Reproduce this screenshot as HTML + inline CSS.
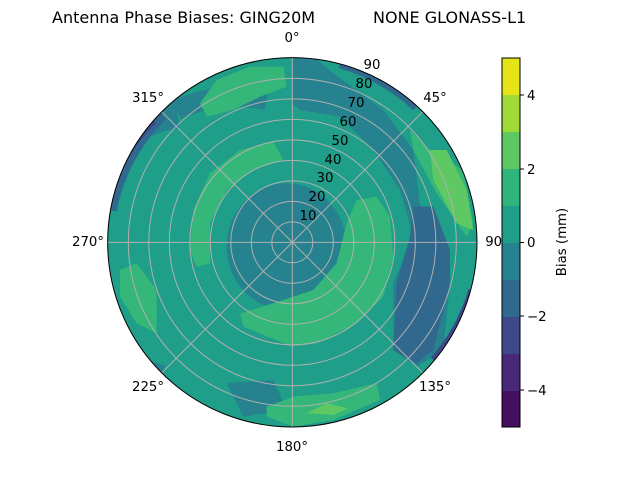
<!DOCTYPE html><html><head><style>body{margin:0;background:#fff}svg{display:block;font-family:"DejaVu Sans","Liberation Sans",sans-serif}</style></head><body>
<svg width="640" height="480" viewBox="0 0 640 480">
<defs><clipPath id="c"><circle cx="577" cy="577" r="554"/></clipPath></defs>
<text x="52" y="23" font-size="16">Antenna Phase Biases: GING20M</text>
<text x="373" y="23" font-size="16">NONE GLONASS-L1</text>
<g transform="translate(100,50) scale(0.3333)">
<g clip-path="url(#c)">
<rect x="0" y="0" width="1170" height="1170" fill="#1f9e89"/>
<path d="M577,20 L640,20 L700,70 L850,180 L940,300 L960,460 L1010,560 L1050,700 L1030,900 L950,950 L880,900 L880,700 L940,560 L900,420 L820,300 L720,200 L600,180 L577,160Z" fill="#26828e"/>
<path d="M180,1000 A420,420 0 0 1 230,180" fill="none" stroke="#26828e" stroke-width="110"/>
<path d="M230,180 A420,420 0 0 1 500,150" fill="none" stroke="#26828e" stroke-width="60"/>
<path d="M380,1000 L520,990 L560,1080 L430,1100Z" fill="#26828e"/>
<ellipse cx="560" cy="590" rx="180" ry="190" fill="#26828e"/>
<path d="M940,470 L1000,470 L1050,600 L1050,700 L1000,900 L950,940 L880,900 L890,700 L930,560Z" fill="#31688e"/>
<path d="M300,160 L350,90 L450,50 L550,50 L560,110 L480,140 L400,180 L320,200Z" fill="#35b779"/>
<path d="M270,600 L280,480 L330,370 L420,300 L520,275 L550,330 L460,360 L380,420 L330,520 L330,640 L290,650Z" fill="#35b779"/>
<path d="M770,450 L830,440 L870,500 L880,620 L850,740 L770,820 L650,880 L577,890 L430,830 L420,790 L520,760 L640,720 L710,640 L740,520Z" fill="#35b779"/>
<path d="M930,240 L990,300 L1090,360 L1120,520 L1100,560 L1010,430 L940,300Z" fill="#35b779"/>
<path d="M990,300 L1040,300 L1100,420 L1120,540 L1070,520 L1000,390Z" fill="#5ec962"/>
<path d="M60,660 L110,640 L170,720 L170,850 L110,820 L60,740Z" fill="#35b779"/>
<path d="M500,1070 L580,1040 L700,1030 L830,1000 L840,1050 L700,1110 L580,1130 L500,1100Z" fill="#35b779"/>
<path d="M620,1090 L680,1060 L745,1075 L700,1095Z" fill="#5ec962"/>
<path d="M720,40 A554,554 0 0 1 950,170" fill="none" stroke="#31688e" stroke-width="30"/>
<path d="M800,50 A554,554 0 0 1 920,130" fill="none" stroke="#3e4989" stroke-width="22"/>
<path d="M25,480 A554,554 0 0 1 180,190" fill="none" stroke="#31688e" stroke-width="50"/>
<path d="M25,420 A554,554 0 0 1 160,210" fill="none" stroke="#3e4989" stroke-width="25"/>
<path d="M1115,720 A554,554 0 0 1 1000,930" fill="none" stroke="#3e4989" stroke-width="20"/>
</g>
<g fill="none" stroke="#b0b0b0" stroke-width="3">
<circle cx="577" cy="577" r="61.5"/><circle cx="577" cy="577" r="123"/><circle cx="577" cy="577" r="184.5"/><circle cx="577" cy="577" r="246"/><circle cx="577" cy="577" r="307.5"/><circle cx="577" cy="577" r="369"/><circle cx="577" cy="577" r="430.5"/><circle cx="577" cy="577" r="492"/>
<line x1="577" y1="23" x2="577" y2="1131"/><line x1="23" y1="577" x2="1131" y2="577"/>
<line x1="185" y1="185" x2="969" y2="969"/><line x1="969" y1="185" x2="185" y2="969"/>
</g>
<circle cx="577" cy="577" r="554" fill="none" stroke="#000" stroke-width="3"/>
</g>
<g font-size="13.3" text-anchor="middle">
<text x="292" y="42">0°</text><text x="435" y="102">45°</text><text x="497" y="246">90°</text><text x="435" y="391">135°</text><text x="292" y="451">180°</text><text x="148" y="391">225°</text><text x="88" y="246">270°</text><text x="148" y="102">315°</text>
<text x="308" y="220">10</text><text x="317" y="201">20</text><text x="325" y="182">30</text><text x="333" y="164">40</text><text x="340" y="145">50</text><text x="348" y="126">60</text><text x="356" y="107">70</text><text x="364" y="88">80</text><text x="372" y="69">90</text>
</g>
<g>
<rect x="502" y="58" width="18" height="37" fill="#e5e419"/>
<rect x="502" y="95" width="18" height="37" fill="#a0da39"/>
<rect x="502" y="132" width="18" height="37" fill="#5ec962"/>
<rect x="502" y="169" width="18" height="37" fill="#2fb47c"/>
<rect x="502" y="206" width="18" height="37" fill="#1f9e89"/>
<rect x="502" y="243" width="18" height="37" fill="#26828e"/>
<rect x="502" y="280" width="18" height="37" fill="#31688e"/>
<rect x="502" y="317" width="18" height="37" fill="#3e4989"/>
<rect x="502" y="354" width="18" height="37" fill="#482878"/>
<rect x="502" y="391" width="18" height="36" fill="#440f5e"/>
<rect x="502" y="58" width="18" height="369" fill="none" stroke="#000" stroke-width="1"/>
<g stroke="#000"><line x1="520" y1="95" x2="524" y2="95"/><line x1="520" y1="169" x2="524" y2="169"/><line x1="520" y1="242.5" x2="524" y2="242.5"/><line x1="520" y1="316" x2="524" y2="316"/><line x1="520" y1="390" x2="524" y2="390"/></g>
<g font-size="13.3"><text x="527" y="100">4</text><text x="527" y="174">2</text><text x="527" y="247">0</text><text x="527" y="321">−2</text><text x="527" y="395">−4</text></g>
<text font-size="13.3" transform="translate(566,242) rotate(-90)" text-anchor="middle">Bias (mm)</text>
</g>
</svg>
</body></html>
